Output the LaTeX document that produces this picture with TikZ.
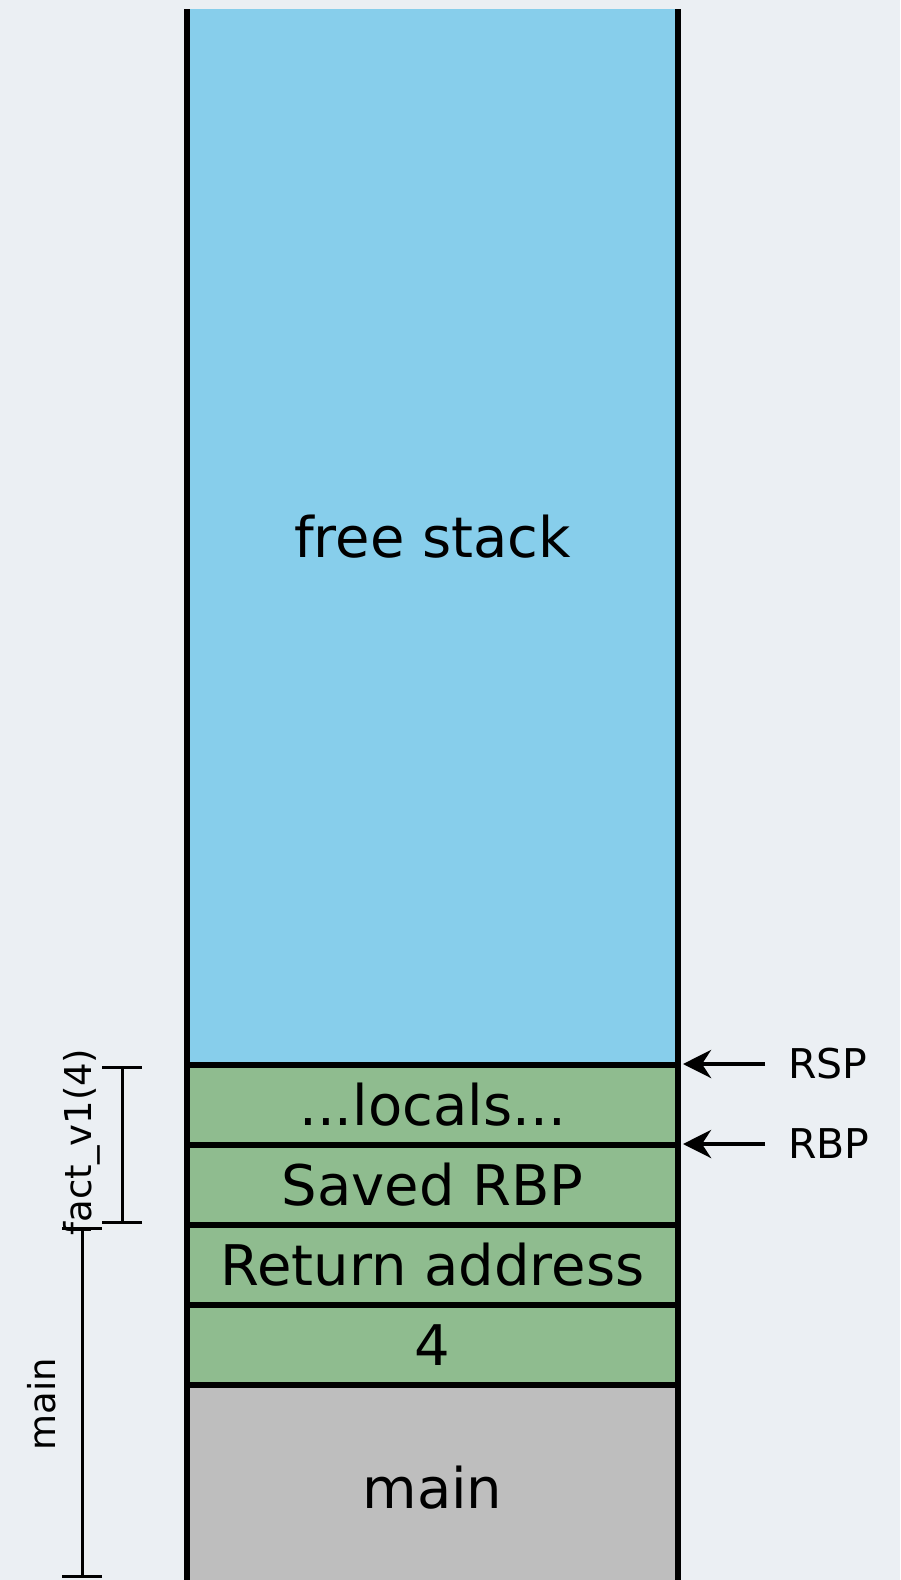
\documentclass[tikz,border=0pt]{standalone}
\usepackage{fontspec}
\setmainfont{DejaVu Sans}
\usetikzlibrary{arrows.meta}
\definecolor{pagebg}{RGB}{235,239,243}
\definecolor{freeblue}{RGB}{135,206,235}
\definecolor{framegreen}{RGB}{143,188,143}
\definecolor{callergray}{RGB}{190,190,190}
\tikzset{
  cell/.style={rectangle, draw=black, line width=6.5pt, minimum width=491pt,
    minimum height=80pt, inner sep=0pt, outer sep=0pt,
    font=\fontsize{56}{60}\selectfont},
  wall/.style={draw=black, line width=6.5pt},
  ptr/.style={-{Stealth[length=28pt,width=28pt,inset=9pt]}, line width=4.5pt,
    shorten <=23pt, shorten >=5pt},
  reglabel/.style={anchor=west, inner sep=0pt, font=\fontsize{41}{45}\selectfont},
  span/.style={{Bar[width=40pt]}-{Bar[width=40pt]}, line width=3pt},
  spanlabel/.style={rotate=90, anchor=base, inner sep=0pt,
    font=\fontsize{37}{40}\selectfont},
}
\begin{document}
\begin{tikzpicture}[x=1pt,y=-1pt]
\fill[pagebg] (0,0) rectangle (900,1580);
\useasboundingbox (0,0) rectangle (900,1580);

% the stack, growing upwards
\begin{scope}
  \clip (0,0) rectangle (900,1580);
  \node[cell, draw=none, fill=freeblue, minimum height=1056pt] (free) at (432.5,537) {free stack};
  \node[cell, fill=framegreen] (locals) at (432.5,1105) {...locals...};
  \node[cell, fill=framegreen] (saved)  at (432.5,1185) {Saved RBP};
  \node[cell, fill=framegreen] (ret)    at (432.5,1265) {Return address};
  \node[cell, fill=framegreen] (arg)    at (432.5,1345) {4};
  \node[cell, fill=callergray, minimum height=205pt] (main) at (432.5,1487.5) {main};
  \draw[wall] (free.north west) -- (main.south west);
  \draw[wall] (free.north east) -- (main.south east);
\end{scope}

% register pointers
\node[reglabel] (rsp) at (788,1064) {RSP};
\node[reglabel] (rbp) at (788,1144) {RBP};
\draw[ptr] (rsp.west) -- (rsp.west -| locals.north east);
\draw[ptr] (rbp.west) -- (rbp.west -| saved.north east);

% frame extents
\coordinate (facttop) at (122,1066);
\coordinate (factbot) at (122,1224);
\draw[span] (facttop) -- (factbot);
\node[spanlabel] (factlbl) at (91.5,1142) {fact\_v1(4)};

\coordinate (maintop) at (82,1227);
\coordinate (mainbot) at (82,1578);
\draw[span] (maintop) -- (mainbot);
\node[spanlabel] (mainlbl) at (55,1404) {main};
\end{tikzpicture}
\end{document}
